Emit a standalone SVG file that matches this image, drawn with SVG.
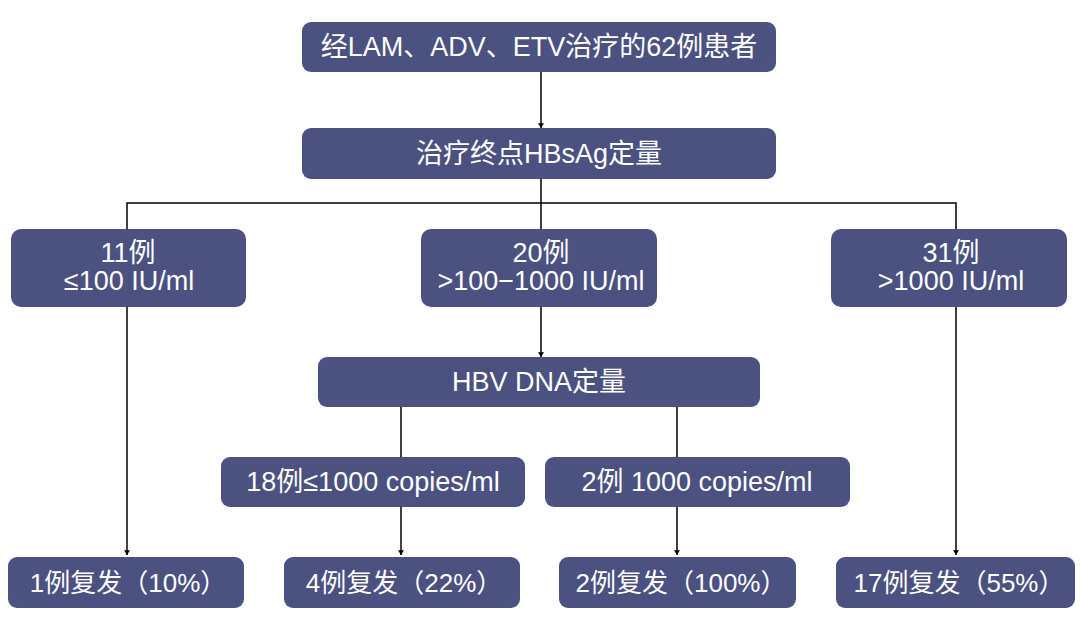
<svg xmlns="http://www.w3.org/2000/svg" width="1080" height="619" viewBox="0 0 1080 619">
<defs>
<style>
.box{fill:#4b5180;}
.t{fill:#ffffff;font-family:"Liberation Sans","Noto Sans CJK SC",sans-serif;font-size:27px;text-anchor:middle;}
.s{font-size:26px;}
.ln{stroke:#000000;stroke-width:1.5;fill:none;}
</style>
<marker id="ah" viewBox="0 0 8 10" refX="8" refY="5" markerWidth="5" markerHeight="6" markerUnits="userSpaceOnUse" orient="auto">
<path d="M0,0 L8,5 L0,10 Z" fill="#000000"/>
</marker>
</defs>
<rect width="1080" height="619" fill="#ffffff"/>
<g id="connectors">
<line class="ln" x1="541" y1="72" x2="541" y2="128" marker-end="url(#ah)"/>
<polyline class="ln" points="127,229 127,203 956,203 956,229"/>
<line class="ln" x1="541" y1="179" x2="541" y2="229"/>
<line class="ln" x1="127" y1="307" x2="127" y2="555" marker-end="url(#ah)"/>
<line class="ln" x1="541" y1="307" x2="541" y2="357" marker-end="url(#ah)"/>
<line class="ln" x1="956" y1="307" x2="956" y2="555" marker-end="url(#ah)"/>
<line class="ln" x1="401" y1="407" x2="401" y2="457"/>
<line class="ln" x1="677" y1="407" x2="677" y2="457"/>
<line class="ln" x1="401" y1="507" x2="401" y2="555" marker-end="url(#ah)"/>
<line class="ln" x1="677" y1="507" x2="677" y2="555" marker-end="url(#ah)"/>
</g>
<g id="n_top"><rect class="box" x="302" y="22" width="474" height="50" rx="9"/><text class="t" x="539" y="56">经LAM、ADV、ETV治疗的62例患者</text></g>
<g id="n_hbsag"><rect class="box" x="302" y="128" width="474" height="51" rx="9"/><text class="t" x="539" y="163">治疗终点HBsAg定量</text></g>
<g id="n_11"><rect class="box" x="11" y="229" width="235" height="78" rx="10"/><text class="t" x="128" y="262">11例</text><text class="t" x="129" y="290">≤100 IU/ml</text></g>
<g id="n_20"><rect class="box" x="421" y="229" width="236" height="78" rx="10"/><text class="t" x="541" y="262">20例</text><text class="t" x="541" y="290">&gt;100−1000 IU/ml</text></g>
<g id="n_31"><rect class="box" x="831" y="229" width="236" height="78" rx="10"/><text class="t" x="951" y="262">31例</text><text class="t" x="951" y="290">&gt;1000 IU/ml</text></g>
<g id="n_hbv"><rect class="box" x="318" y="357" width="442" height="50" rx="9"/><text class="t" x="539" y="391">HBV DNA定量</text></g>
<g id="n_18"><rect class="box" x="221" y="457" width="304" height="50" rx="9"/><text class="t" x="373" y="491">18例≤1000 copies/ml</text></g>
<g id="n_2"><rect class="box" x="545" y="457" width="305" height="50" rx="9"/><text class="t" x="697" y="491">2例 1000 copies/ml</text></g>
<g id="n_r1"><rect class="box" x="8" y="557" width="236" height="51" rx="9"/><text class="t s" x="128" y="592">1例复发（10%）</text></g>
<g id="n_r4"><rect class="box" x="284" y="557" width="236" height="51" rx="9"/><text class="t s" x="404" y="592">4例复发（22%）</text></g>
<g id="n_r2"><rect class="box" x="559" y="557" width="237" height="51" rx="9"/><text class="t s" x="681" y="592">2例复发（100%）</text></g>
<g id="n_r17"><rect class="box" x="836" y="557" width="239" height="51" rx="9"/><text class="t s" x="959" y="592">17例复发（55%）</text></g>
</svg>
